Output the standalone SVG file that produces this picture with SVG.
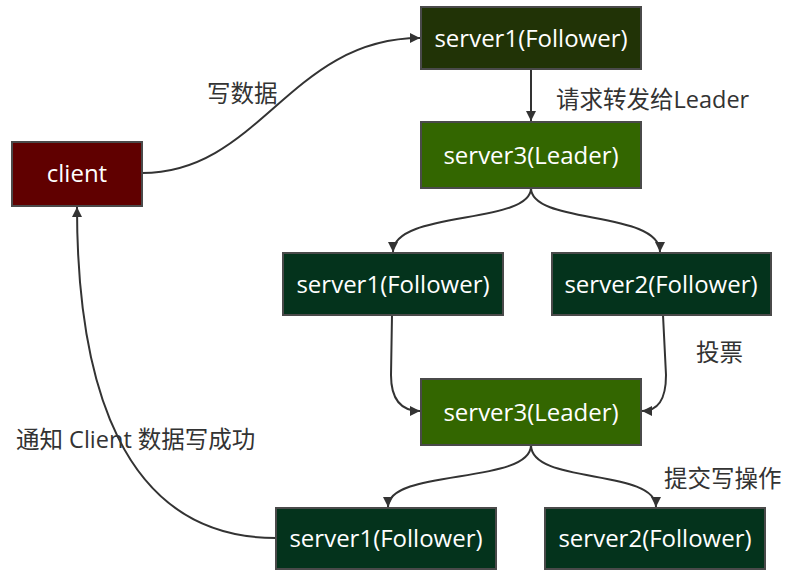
<svg xmlns="http://www.w3.org/2000/svg" width="792" height="579" viewBox="0 0 792 579">
<defs>
<marker id="arr" viewBox="0 0 10 10" refX="10" refY="5" markerWidth="10" markerHeight="10" markerUnits="userSpaceOnUse" orient="auto">
<path d="M0,0 L10,5 L0,10 z" fill="#333333"/>
</marker>
<style>
.node rect{stroke:#4a4a4a;stroke-width:2}
.node text{fill:#ffffff;font-family:"Open Sans","Noto Sans CJK SC",sans-serif;font-size:24px;text-anchor:middle}
.lbl{fill:#333333;font-family:"Open Sans","Noto Sans CJK SC",sans-serif;font-size:23.5px}
#edges path{fill:none;stroke:#333333;stroke-width:2;marker-end:url(#arr)}
</style>
</defs>
<rect width="792" height="579" fill="#ffffff"/>
<g id="edges">
<path d="M142,173 C260,173 290,38 420,38"/>
<path d="M531,69 L531,121"/>
<path d="M531,188 C531,225 393,210 393,252"/>
<path d="M531,188 C531,225 660,210 660,252"/>
<path d="M392,315 L391,375 C391,400 402,411 420,411"/>
<path d="M663,315 L666,375 C666,400 658,411 642,411"/>
<path d="M531,445 C531,485 388,468 388,507"/>
<path d="M531,445 C531,485 656,468 656,507"/>
<path d="M276,538 C120,538 77,380 77,207"/>
</g>
<g id="client" class="node"><rect x="12" y="142" width="130" height="64" fill="#600000"/><text x="77" y="182">client</text></g>
<g id="s1-top" class="node"><rect x="421" y="7" width="220" height="62" fill="#213306"/><text x="531" y="47">server1(Follower)</text></g>
<g id="s3-leader1" class="node"><rect x="421" y="122" width="220" height="66" fill="#336600"/><text x="531" y="164">server3(Leader)</text></g>
<g id="s1-mid" class="node"><rect x="283" y="253" width="220" height="62" fill="#04331c"/><text x="393" y="293">server1(Follower)</text></g>
<g id="s2-mid" class="node"><rect x="552" y="253" width="219" height="62" fill="#04331c"/><text x="661" y="293">server2(Follower)</text></g>
<g id="s3-leader2" class="node"><rect x="421" y="379" width="220" height="66" fill="#336600"/><text x="531" y="421">server3(Leader)</text></g>
<g id="s1-bot" class="node"><rect x="276" y="508" width="220" height="61" fill="#04331c"/><text x="386" y="547">server1(Follower)</text></g>
<g id="s2-bot" class="node"><rect x="545" y="508" width="220" height="61" fill="#04331c"/><text x="655" y="547">server2(Follower)</text></g>
<g id="labels">
<text class="lbl" x="207" y="102">写数据</text>
<text class="lbl" x="556" y="108">请求转发给Leader</text>
<text class="lbl" x="696" y="361">投票</text>
<text class="lbl" x="16" y="448">通知 Client 数据写成功</text>
<text class="lbl" x="664" y="487">提交写操作</text>
</g>
</svg>
